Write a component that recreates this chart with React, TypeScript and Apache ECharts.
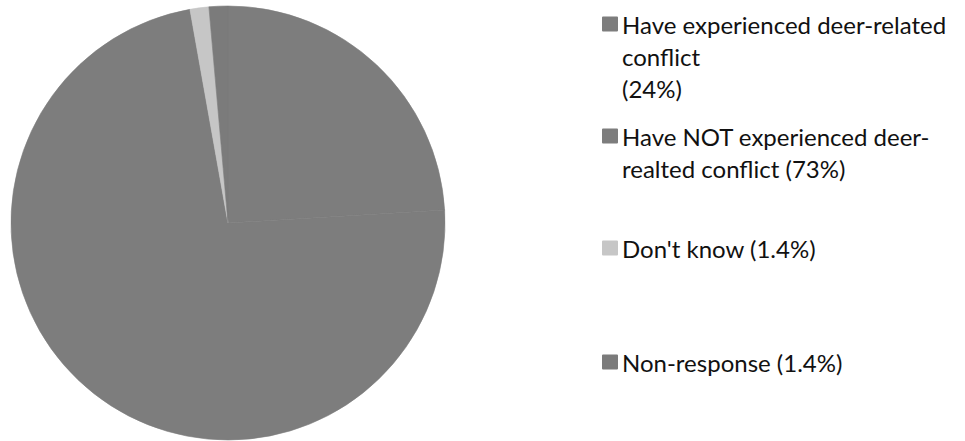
import React, { useEffect, useRef } from "react";
import * as echarts from "echarts";

const categories = [
  "Have experienced deer-related conflict",
  "Have NOT experienced deer-realted conflict",
  "Don't know",
  "Non-response",
];
const legendLabels = [
  "Have experienced deer-related\nconflict\n(24%)",
  "Have NOT experienced deer-\nrealted conflict (73%)",
  "Don't know (1.4%)",
  "Non-response (1.4%)",
];
const values = [24, 73, 1.4, 1.4];
const colors = ["#7d7d7d", "#7d7d7d", "#c6c6c6", "#7b7b7b"];
const legendIconCenters = [24, 136, 248, 362];

const LINE_H = 32;

export default function App() {
  const ref = useRef<HTMLDivElement>(null);
  useEffect(() => {
    if (!ref.current) return;
    const chart = echarts.init(ref.current, null, { renderer: "svg" });
    const legends = categories.map((name, i) => {
      const n = legendLabels[i].split("\n").length;
      // leading blank lines keep the first text line level with the swatch
      const text = "\n".repeat(n - 1) + legendLabels[i];
      return {
        orient: "vertical",
        left: 602,
        top: legendIconCenters[i] - ((2 * n - 1) * LINE_H) / 2,
        padding: 0,
        itemWidth: 14,
        itemHeight: 13,
        itemGap: 0,
        icon: "rect",
        selectedMode: false,
        data: [name],
        formatter: () => text,
        textStyle: {
          fontFamily: "Lato",
          fontSize: 24,
          color: "#111",
          lineHeight: LINE_H,
        },
      };
    });
    chart.setOption({
      animation: false,
      color: colors,
      legend: legends,
      series: [
        {
          type: "pie",
          center: [228, 223],
          radius: 217,
          startAngle: 90,
          clockwise: true,
          label: { show: false },
          labelLine: { show: false },
          emphasis: { disabled: true },
          data: categories.map((name, i) => ({
            name,
            value: values[i],
            itemStyle: { color: colors[i], borderColor: colors[i], borderWidth: 0.6 },
          })),
        },
      ],
    });
    return () => chart.dispose();
  }, []);
  return (
    <div
      ref={ref}
      style={{ position: "fixed", left: 0, top: 0, width: 965, height: 441, background: "#fff" }}
    />
  );
}
